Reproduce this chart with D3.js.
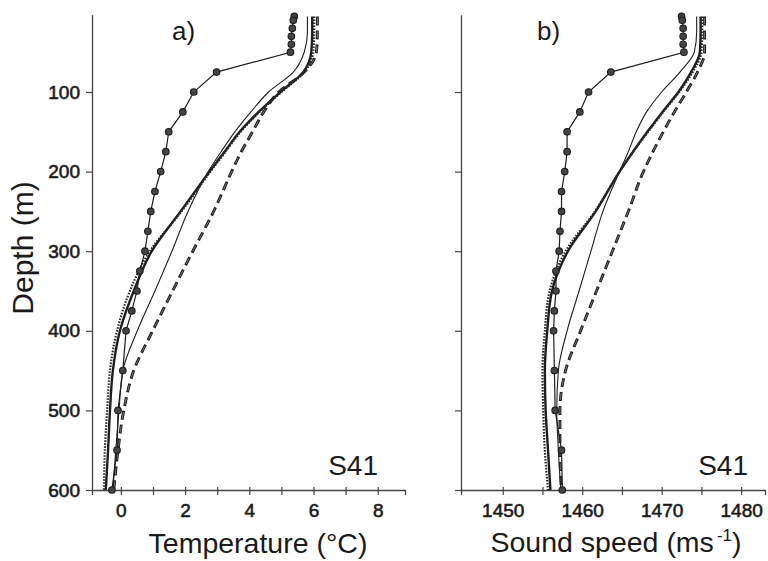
<!DOCTYPE html>
<html><head><meta charset="utf-8">
<script src="https://cdn.jsdelivr.net/npm/d3@7"></script>
<style>
body{margin:0;background:#fff}
text{font-family:"Liberation Sans",Arial,sans-serif;fill:#1a1a1a}
</style>
</head><body>
<svg id="chart" width="768" height="561"></svg>
<script>
// Depth levels (m) for the model profiles and for the station casts
const profileDepths = [5,25,50,75,100,125,150,175,200,250,300,350,400,450,500,550,600];
const stationDepths = [5,10,20,30,40,50,75,100,125,150,175,200,225,250,275,300,325,350,375,400,450,500,550,600];

// Temperature (°C)
const tempStation = [5.40,5.37,5.34,5.31,5.31,5.28,2.98,2.27,1.93,1.49,1.40,1.24,1.06,0.93,0.84,0.75,0.59,0.50,0.34,0.16,0.06,-0.09,-0.12,-0.28];
const tempThin    = [5.81,5.81,5.71,5.37,4.60,4.05,3.55,3.12,2.72,2.09,1.59,1.06,0.51,0.06,-0.06,-0.16,-0.25];
const tempThick   = [5.96,5.96,5.93,5.68,4.97,4.29,3.70,3.23,2.76,1.86,0.96,0.40,-0.03,-0.25,-0.34,-0.40,-0.47];
const tempDotted  = [6.02,6.02,5.99,5.71,5.00,4.32,3.73,3.26,2.79,1.89,0.90,0.28,-0.12,-0.34,-0.43,-0.50,-0.53];
const tempDashed  = [6.12,6.12,6.09,5.71,4.92,4.45,4.10,3.75,3.45,2.89,2.24,1.61,0.99,0.40,0.09,-0.09,-0.22];

// Sound speed (m/s)
const soundStation = [1472.5,1472.6,1472.7,1472.7,1472.7,1472.8,1463.6,1460.8,1459.7,1458.1,1458.1,1457.8,1457.4,1457.4,1457.2,1457.1,1456.7,1456.7,1456.5,1456.4,1456.5,1456.6,1457.4,1457.5];
const soundThin    = [1474.4,1474.4,1474.1,1472.3,1470.0,1468.1,1466.8,1465.8,1464.7,1462.6,1461.1,1459.6,1458.1,1457.0,1456.8,1457.0,1457.3];
const soundThick   = [1474.9,1474.9,1474.8,1473.7,1472.1,1470.1,1468.2,1466.4,1464.7,1461.7,1458.2,1456.2,1455.6,1455.3,1455.4,1455.7,1456.0];
const soundDotted  = [1475.1,1475.1,1475.0,1473.9,1472.2,1470.2,1468.3,1466.4,1464.7,1461.6,1457.9,1455.9,1455.3,1455.0,1455.1,1455.3,1455.7];
const soundDashed  = [1475.4,1475.4,1475.4,1474.5,1473.1,1471.6,1470.2,1468.9,1467.7,1465.8,1463.8,1461.8,1459.8,1457.9,1457.2,1457.2,1457.4];

// Axis ticks
const depthTicks = [100,200,300,400,500,600];
const tempTicks = [0,1,2,3,4,5,6,7,8];
const tempLabels = [0,2,4,6,8];
const soundTicks = [1450,1455,1460,1465,1470,1475,1480];
const soundLabels = [1450,1460,1470,1480];

const svg = d3.select("#chart");
const ink = "#1e1e1e";

const y = d3.scaleLinear().domain([3, 600]).range([14.8, 490]);

function panel(opt) {
  const x = d3.scaleLinear().domain(opt.domain).range(opt.range);
  const g = svg.append("g");
  const left = opt.range[0];

  // x axis
  const xa = g.append("g").attr("transform", `translate(0,${y(600)})`)
    .call(d3.axisBottom(x).tickValues(opt.ticks).tickSize(5).tickSizeOuter(5).tickPadding(8.5)
      .tickFormat(d => opt.labels.includes(d) ? d : ""));
  xa.selectAll(".tick line").attr("y1", -3);
  // y axis
  const ya = g.append("g").attr("transform", `translate(${left},0)`)
    .call(d3.axisLeft(y).tickValues(depthTicks).tickSize(6).tickSizeOuter(0).tickPadding(6)
      .tickFormat(d => opt.depthLabels ? d : ""));
  [xa, ya].forEach(a => {
    a.select(".domain").attr("stroke", "#444").attr("stroke-width", 1.3);
    a.selectAll(".tick line").attr("stroke", "#444").attr("stroke-width", 1.2);
    a.selectAll("text").attr("font-size", 19).attr("font-family", "Liberation Sans, Arial, sans-serif")
      .attr("fill", ink).attr("stroke", ink).attr("stroke-width", 0.6);
  });

  const line = d3.line().x(d => x(d.v)).y(d => y(d.d)).curve(d3.curveMonotoneY);
  const prof = vals => profileDepths.map((d, i) => ({d, v: vals[i]}));

  // dashed profile, drawn as hollow dashes
  g.append("path").attr("d", line(prof(opt.dashed))).attr("fill", "none")
    .attr("stroke", ink).attr("stroke-width", 2.9).attr("stroke-dasharray", "9,5");
  g.append("path").attr("d", line(prof(opt.dashed))).attr("fill", "none")
    .attr("stroke", "#9a9a9a").attr("stroke-width", 0.7).attr("stroke-dasharray", "0,1.2,6.6,6.2");
  // thin solid profile
  g.append("path").attr("d", line(prof(opt.thin))).attr("fill", "none")
    .attr("stroke", ink).attr("stroke-width", 1.1);
  // thick solid profile
  g.append("path").attr("d", line(prof(opt.thick))).attr("fill", "none")
    .attr("stroke", ink).attr("stroke-width", 2.4);
  // dotted profile
  g.append("path").attr("d", line(prof(opt.dotted))).attr("fill", "none")
    .attr("stroke", "#2a2a2a").attr("stroke-width", 2.2).attr("stroke-dasharray", "1.6,1.4");

  // station cast: straight segments with filled circles
  const st = stationDepths.map((d, i) => ({d, v: opt.station[i]}));
  g.append("path").attr("d", d3.line().x(d => x(d.v)).y(d => y(d.d))(st))
    .attr("fill", "none").attr("stroke", ink).attr("stroke-width", 1.2);
  g.selectAll("circle.st").data(st).join("circle").attr("class", "st")
    .attr("cx", d => x(d.v)).attr("cy", d => y(d.d)).attr("r", 3.3)
    .attr("fill", "#444").attr("stroke", ink).attr("stroke-width", 1.1);

  // panel letter and station name
  g.append("text").attr("x", opt.letterX).attr("y", 40).attr("font-size", 26).text(opt.letter);
  g.append("text").attr("x", opt.nameX).attr("y", 475).attr("font-size", 28).attr("text-anchor", "end").text("S41");
  return g;
}

panel({domain: [-0.9, 8.85], range: [92, 405], ticks: tempTicks, labels: tempLabels, depthLabels: true,
  station: tempStation, thin: tempThin, thick: tempThick, dotted: tempDotted, dashed: tempDashed,
  letter: "a)", letterX: 172, nameX: 378});
panel({domain: [1444.75, 1483], range: [461, 765], ticks: soundTicks, labels: soundLabels, depthLabels: false,
  station: soundStation, thin: soundThin, thick: soundThick, dotted: soundDotted, dashed: soundDashed,
  letter: "b)", letterX: 537, nameX: 748});

// axis titles
svg.append("text").attr("x", 258).attr("y", 553).attr("font-size", 28.5).attr("text-anchor", "middle")
  .text("Temperature (°C)");
const ss = svg.append("text").attr("x", 616).attr("y", 552).attr("font-size", 28.5).attr("text-anchor", "middle");
ss.append("tspan").text("Sound speed (ms");
ss.append("tspan").attr("font-size", 17).attr("dy", -11).attr("dx", 3).text("-1");
ss.append("tspan").attr("dy", 11).text(")");
svg.append("text").attr("transform", "translate(33,248) rotate(-90)").attr("font-size", 30)
  .attr("text-anchor", "middle").text("Depth (m)");
</script>
</body></html>
